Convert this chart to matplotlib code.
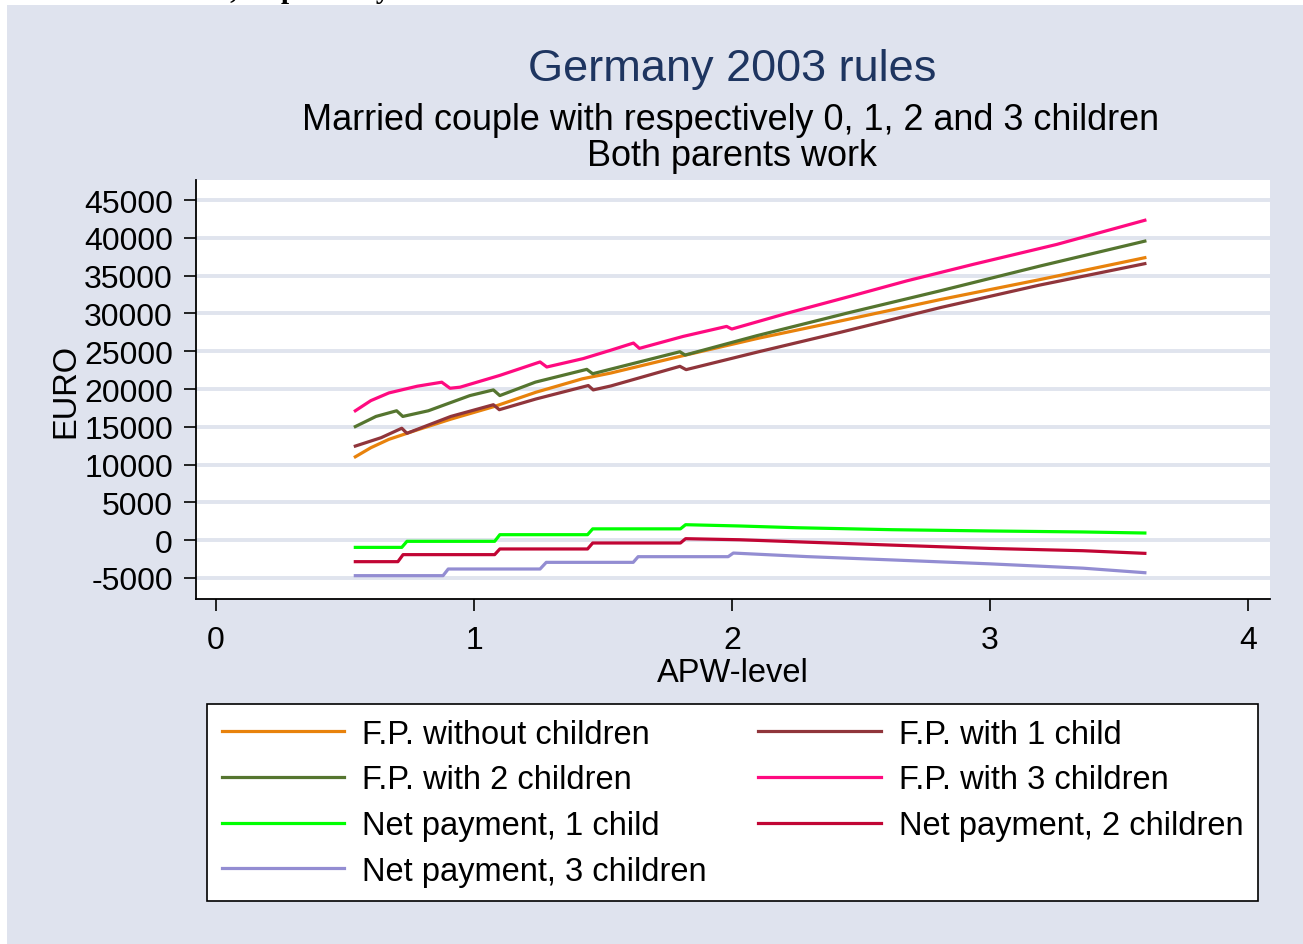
import matplotlib.pyplot as plt
from matplotlib.patches import Rectangle

plt.rcParams['font.family'] = ['Liberation Sans', 'DejaVu Sans']
plt.rcParams['axes.unicode_minus'] = False

# F.P. = family payments, EURO per year, by APW-level
fp0_x = [0.54, 0.60, 0.67, 0.78, 0.91, 1.08, 1.24, 1.42, 1.53, 1.81, 2.10, 2.42, 2.81, 3.19, 3.60]
fp0_y = [11030, 12230, 13340, 14590, 16010, 17700, 19570, 21350, 22110, 24410, 26700, 29000, 31850, 34450, 37370]

fp1_x = [0.54, 0.64, 0.72, 0.74, 0.91, 1.075, 1.098, 1.24, 1.443, 1.462, 1.53, 1.798, 1.822, 2.10, 2.42, 2.81, 3.19, 3.60]
fp1_y = [12450, 13560, 14810, 14140, 16370, 17920, 17260, 18680, 20460, 19880, 20400, 23000, 22560, 24900, 27500, 30790, 33730, 36580]

fp2_x = [0.54, 0.62, 0.70, 0.724, 0.823, 0.894, 0.984, 1.075, 1.10, 1.238, 1.437, 1.46, 1.527, 1.798, 1.818, 2.096, 2.457, 2.806, 3.194, 3.60]
fp2_y = [15030, 16370, 17120, 16370, 17120, 18010, 19130, 19880, 19130, 20910, 22600, 22020, 22600, 24930, 24490, 27050, 30130, 32980, 36270, 39560]

fp3_x = [0.54, 0.60, 0.67, 0.78, 0.875, 0.907, 0.946, 1.10, 1.256, 1.282, 1.423, 1.527, 1.618, 1.641, 1.811, 1.979, 1.999, 2.225, 2.457, 2.677, 2.935, 3.258, 3.60]
fp3_y = [17120, 18460, 19480, 20370, 20900, 20100, 20240, 21800, 23580, 22910, 24020, 25100, 26080, 25375, 26960, 28280, 27930, 30130, 32250, 34300, 36490, 39120, 42320]

net1_x = [0.54, 0.72, 0.74, 1.08, 1.10, 1.44, 1.46, 1.80, 1.82, 2.03, 2.25, 2.62, 3.00, 3.36, 3.60]
net1_y = [-950, -950, -150, -150, 730, 730, 1500, 1500, 2050, 1880, 1650, 1390, 1220, 1090, 950]

net2_x = [0.54, 0.705, 0.725, 1.08, 1.10, 1.44, 1.46, 1.80, 1.82, 2.03, 2.29, 2.62, 3.00, 3.36, 3.60]
net2_y = [-2840, -2840, -1910, -1910, -1160, -1160, -370, -370, 200, 60, -260, -650, -1090, -1390, -1740]

net3_x = [0.54, 0.88, 0.90, 1.256, 1.28, 1.617, 1.636, 1.985, 2.005, 2.29, 2.62, 3.00, 3.36, 3.60]
net3_y = [-4690, -4690, -3810, -3810, -2930, -2930, -2180, -2180, -1700, -2170, -2610, -3130, -3700, -4300]

y_ticks = [-5000, 0, 5000, 10000, 15000, 20000, 25000, 30000, 35000, 40000, 45000]
x_ticks = [0, 1, 2, 3, 4]

bg = '#DFE3EE'
W, H = 1303, 945
fig = plt.figure(figsize=(W / 100, H / 100), dpi=100, facecolor='white')

# cut-off caption line from the page above the graph
fig.text(3 / W, 1 + 2.2 / H, 'and three children, respectively.', family='Liberation Serif',
         fontweight='bold', fontsize=20.8, va='baseline', ha='left')
fig.patches.append(Rectangle((7 / W, 0), 1, 1 - 6 / H, transform=fig.transFigure,
                             facecolor=bg, edgecolor='none', zorder=-5))

ax = fig.add_axes([196 / W, (H - 600) / H, 1074 / W, 419 / H])
ax.set_facecolor('white')

lw = 2.3
ax.plot(fp0_x, fp0_y, color='#E8820C', lw=lw, label='F.P. without children')
ax.plot(fp1_x, fp1_y, color='#90353B', lw=lw, label='F.P. with 1 child')
ax.plot(fp2_x, fp2_y, color='#55752F', lw=lw, label='F.P. with 2 children')
ax.plot(fp3_x, fp3_y, color='#FF0A80', lw=lw, label='F.P. with 3 children')
ax.plot(net1_x, net1_y, color='#00FF00', lw=lw, label='Net payment, 1 child')
ax.plot(net2_x, net2_y, color='#C10534', lw=lw, label='Net payment, 2 children')
ax.plot(net3_x, net3_y, color='#938DD2', lw=lw, label='Net payment, 3 children')

ax.set_xlim(-0.0775, 4.085)
ax.set_ylim(-7778, 47646)
ax.set_yticks(y_ticks)
ax.set_xticks(x_ticks)
ax.grid(axis='y', color='#E0E4EE', lw=2.8, zorder=0)
ax.set_axisbelow(True)
ax.tick_params(labelsize=23, length=8.6, width=1.2)
ax.tick_params(axis='y', pad=8)
ax.tick_params(axis='x', pad=10.2)
for s in ['top', 'right']:
    ax.spines[s].set_visible(False)
for s in ['left', 'bottom']:
    ax.spines[s].set_linewidth(1.3)

ax.set_xlabel('APW-level', fontsize=23.5, labelpad=1.2)
ax.set_ylabel('EURO', fontsize=23.5, labelpad=2)

fig.text(732 / W, 1 - 69 / H, 'Germany 2003 rules', fontsize=32.5, color='#1E3560',
         ha='center', va='center')
fig.text(731 / W, 1 - 121 / H, 'Married couple with respectively 0, 1, 2 and 3 children',
         fontsize=25.9, ha='center', va='center')
fig.text(732 / W, 1 - 157 / H, 'Both parents work', fontsize=25.9, ha='center', va='center')

handles, labels = ax.get_legend_handles_labels()
order = [0, 2, 4, 6, 1, 3, 5]
leg = ax.legend([handles[i] for i in order], [labels[i] for i in order], ncol=2,
                loc='upper left', bbox_to_anchor=(207 / W, 1 - 905 / H, 1051 / W, 200 / H),
                bbox_transform=fig.transFigure, mode='expand', borderaxespad=0,
                fontsize=23.5, handlelength=3.75, handletextpad=0.55, labelspacing=0.45,
                borderpad=0.45, fancybox=False, framealpha=1, edgecolor='black')
leg.get_frame().set_linewidth(1.2)

fig.savefig('out.png', dpi=100, facecolor='white')
